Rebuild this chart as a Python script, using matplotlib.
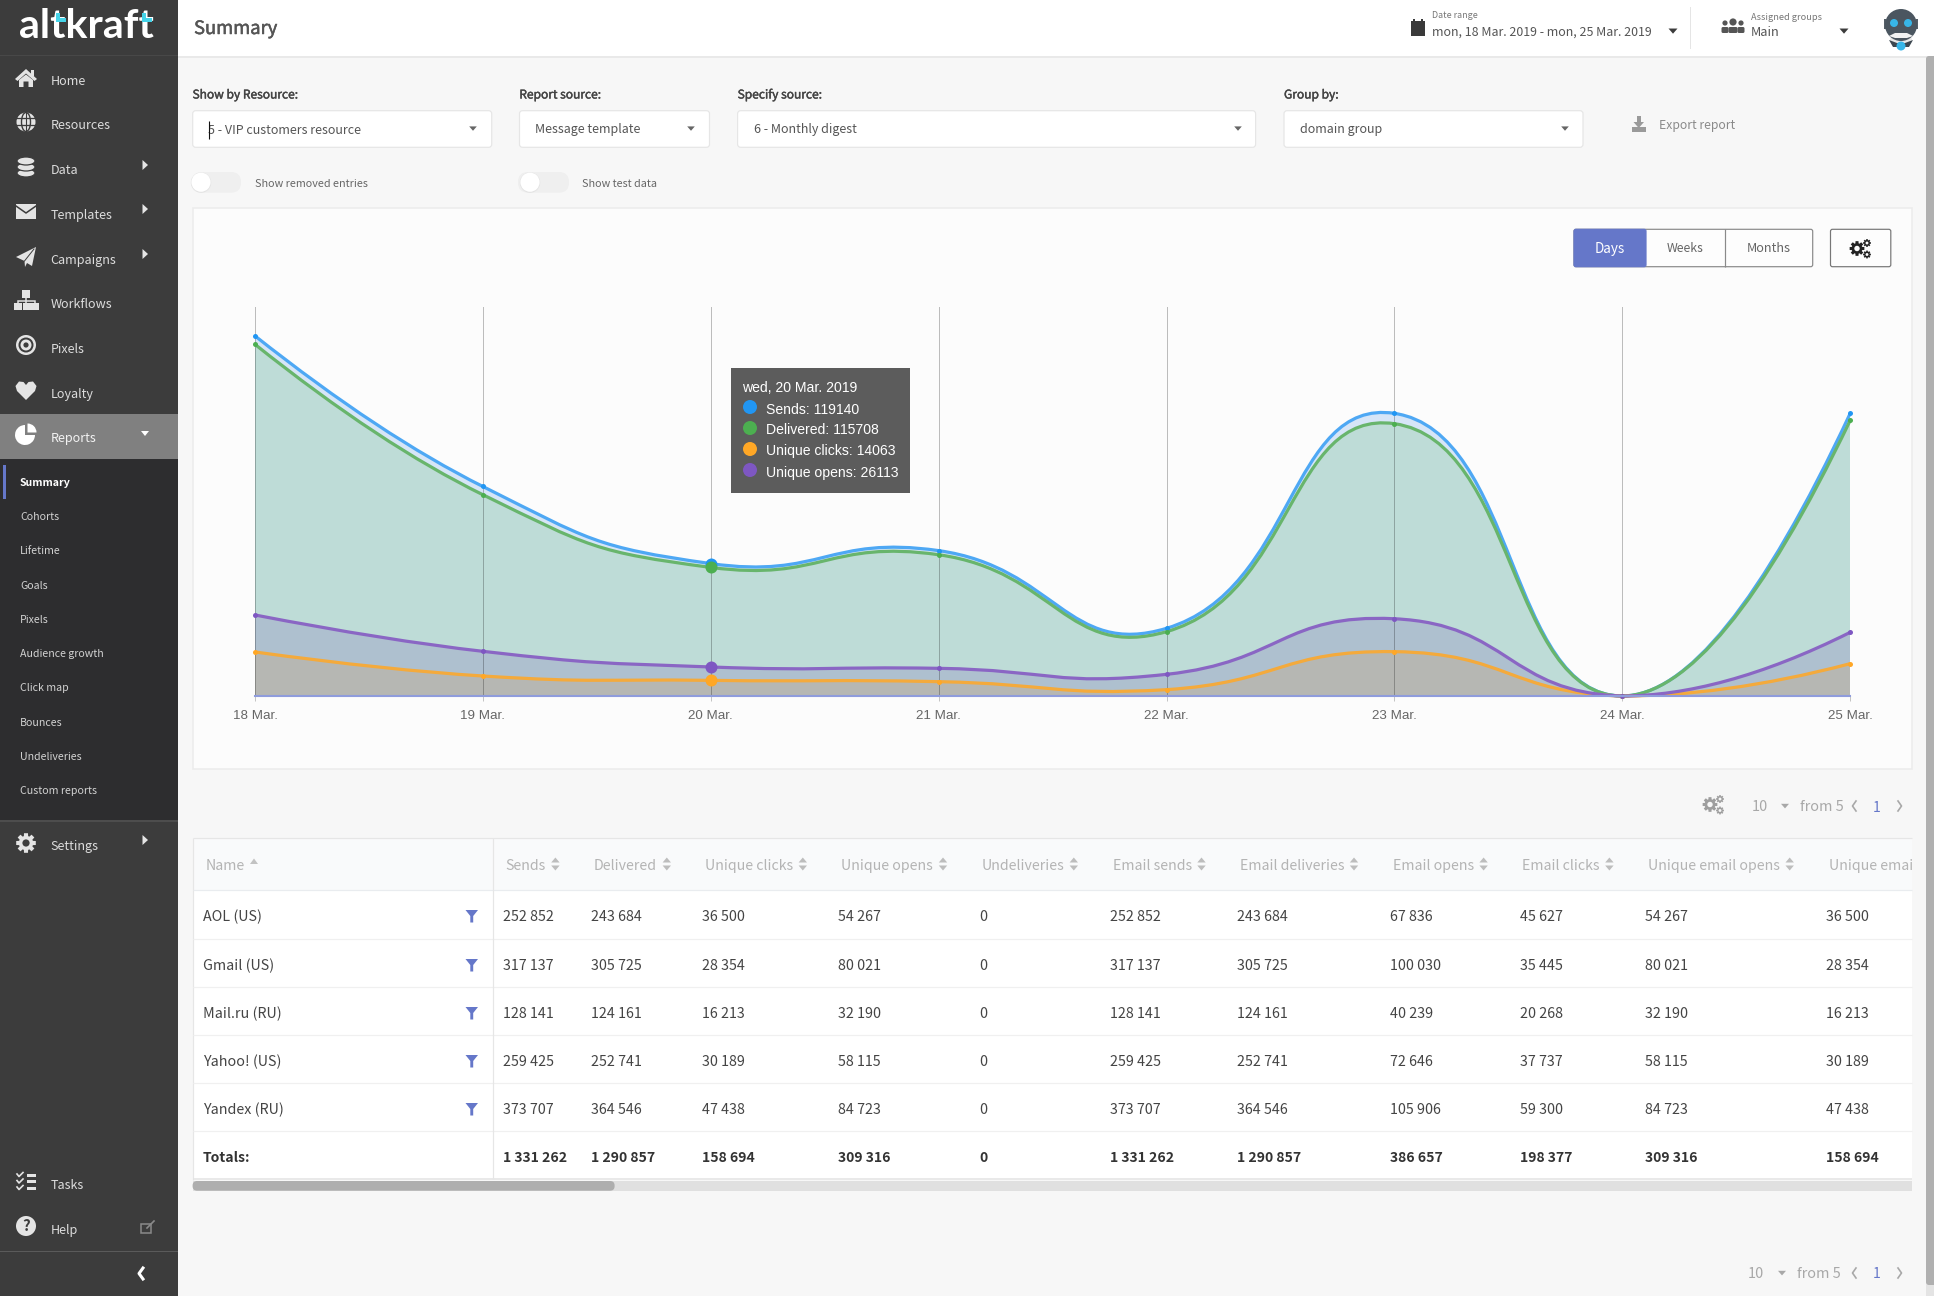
import numpy as np
import matplotlib
matplotlib.use("Agg")
import matplotlib.pyplot as plt
import matplotlib.patheffects as pe
from matplotlib.patches import Rectangle, FancyBboxPatch, Circle, Ellipse, Polygon, Wedge, PathPatch
from matplotlib.path import Path

# ---------- chart data ----------
days = ["18 Mar.", "19 Mar.", "20 Mar.", "21 Mar.", "22 Mar.", "23 Mar.", "24 Mar.", "25 Mar."]
sends = [324000, 188500, 119140, 130800, 60900, 254300, 0, 254300]
delivered = [316400, 181100, 115708, 127100, 57900, 245000, 0, 248000]
unique_clicks = [39600, 18000, 14063, 12900, 5700, 39900, 0, 29100]
unique_opens = [72900, 40200, 26113, 24900, 19500, 69500, 0, 57300]
y_max = 350000
hover_index = 2

# ---------- table data ----------
row_names = ["AOL (US)", "Gmail (US)", "Mail.ru (RU)", "Yahoo! (US)", "Yandex (RU)", "Totals:"]
col_headers = ["Sends", "Delivered", "Unique clicks", "Unique opens", "Undeliveries", "Email sends",
               "Email deliveries", "Email opens", "Email clicks", "Unique email opens", "Unique email clicks"]
col_sends = ["252 852", "317 137", "128 141", "259 425", "373 707", "1 331 262"]
col_delivered = ["243 684", "305 725", "124 161", "252 741", "364 546", "1 290 857"]
col_uclicks = ["36 500", "28 354", "16 213", "30 189", "47 438", "158 694"]
col_uopens = ["54 267", "80 021", "32 190", "58 115", "84 723", "309 316"]
col_undeliv = ["0", "0", "0", "0", "0", "0"]
col_eopens = ["67 836", "100 030", "40 239", "72 646", "105 906", "386 657"]
col_eclicks = ["45 627", "35 445", "20 268", "37 737", "59 300", "198 377"]
table_cols = [col_sends, col_delivered, col_uclicks, col_uopens, col_undeliv, col_sends,
              col_delivered, col_eopens, col_eclicks, col_uopens, col_uclicks]

menu_main = ["Home", "Resources", "Data", "Templates", "Campaigns", "Workflows", "Pixels", "Loyalty"]
menu_sub = ["Summary", "Cohorts", "Lifetime", "Goals", "Pixels", "Audience growth", "Click map",
            "Bounces", "Undeliveries", "Custom reports"]

UI = "Noto Sans CJK SC"
W, H = 1934, 1296
fig = plt.figure(figsize=(W / 100, H / 100), dpi=100, facecolor="#f7f7f7")
ax = fig.add_axes([0, 0, 1, 1], zorder=0)
ax.set_xlim(0, W); ax.set_ylim(H, 0); ax.axis("off")
top = fig.add_axes([0, 0, 1, 1], zorder=3)
top.set_xlim(0, W); top.set_ylim(H, 0); top.axis("off"); top.patch.set_alpha(0)


def T(x, y, s, px=14, c="#555555", w="normal", ha="left", a=None, fam=UI, semi=0, **kw):
    dy = 1.5 if fam == UI else 0
    t = (a or ax).text(x, y + dy, s, fontsize=px * 0.72, color=c, fontweight=w, ha=ha, va="center",
                       family=fam, **kw)
    if semi:
        t.set_path_effects([pe.withStroke(linewidth=semi, foreground=c)])
    return t


def R(x0, y0, x1, y1, fc, ec="none", lw=0, z=1, a=None):
    (a or ax).add_patch(Rectangle((x0, y0), x1 - x0, y1 - y0, fc=fc, ec=ec, lw=lw * 0.72, zorder=z))


def RR(x0, y0, x1, y1, fc, ec="none", lw=1, r=3, z=1):
    ax.add_patch(FancyBboxPatch((x0 + r, y0 + r), x1 - x0 - 2 * r, y1 - y0 - 2 * r,
                                boxstyle=f"round,pad={r},rounding_size={r}", fc=fc, ec=ec, lw=lw * 0.72, zorder=z))


def Poly(pts, fc, z=4, a=None, **kw):
    (a or ax).add_patch(Polygon(pts, closed=True, fc=fc, ec="none", zorder=z, **kw))


def tri_down(x, y, s=5, c="#555555"):
    Poly([(x - s, y - s * 0.55), (x + s, y - s * 0.55), (x, y + s * 0.6)], c)


def tri_right(x, y, s=5, c="#e0e0e0"):
    Poly([(x - s * 0.5, y - s), (x - s * 0.5, y + s), (x + s * 0.6, y)], c)


def L(xs, ys, c, lw=1.0, z=4, cap="butt"):
    ax.plot(xs, ys, color=c, lw=lw * 0.72, zorder=z, solid_capstyle=cap, solid_joinstyle="miter")


def gear(x, y, r, c, hole="#3c3c3c", z=4):
    ang = np.linspace(0, 2 * np.pi, 8, endpoint=False)
    pts = []
    for t in ang:
        for d, rr in [(-0.30, 0.72), (-0.20, 1.0), (0.20, 1.0), (0.30, 0.72)]:
            pts.append((x + r * rr * np.cos(t + d), y + r * rr * np.sin(t + d)))
    Poly(pts, c, z)
    ax.add_patch(Circle((x, y), r * 0.36, fc=hole, ec="none", zorder=z + 0.1))


def gears(x, y, c, hole):
    gear(x - 3, y, 7.5, c, hole)
    gear(x + 7, y - 5.5, 4, c, hole)
    gear(x + 7, y + 6, 4, c, hole)


# ---------- base panels ----------
R(0, 0, 178, H, "#3c3c3c")
R(0, 459, 178, 820, "#2d2d2f")
R(0, 820, 178, 821.5, "#4d4d4d")
R(0, 54.5, 178, 56, "#484848")
R(0, 414, 178, 459, "#808080")
R(0, 1251, 178, 1252, "#5a5a5a")
R(178, 0, W, 56, "#ffffff")
R(178, 56, W, 57.5, "#e9e9e9")
R(1926, 56, W, H, "#e4e4e4")
RR(1926, 56, W + 4, 1285, "#b0b0b0", r=3)

# logo
T(19.5, 26, "altkraft", 41, "#ffffff", "bold", fam="Lato")
Poly([(55.5, 13), (59.5, 13), (59.5, 18), (65.5, 18), (65.5, 22), (55.5, 22)], "#45d3e8", 5)
Poly([(142, 13), (146, 13), (146, 18), (152, 18), (152, 22), (142, 22)], "#45d3e8", 5)

# sidebar text
MS = 12.6
ys_main = [80, 124, 169, 214, 259, 303, 348, 393]
for s, y in zip(menu_main, ys_main):
    T(50.5, y, s, MS, "#dcdcdc")
for y in (165, 209, 254):
    tri_right(145, y, 5, "#e6e6e6")
T(50.5, 437, "Reports", MS, "#f2f2f2")
Poly([(141, 431), (149, 431), (145, 436)], "#ffffff")
T(50.5, 845, "Settings", MS, "#dcdcdc")
tri_right(145, 840, 5, "#e6e6e6")
T(50.5, 1184, "Tasks", MS, "#dcdcdc")
T(50.5, 1229, "Help", MS, "#dcdcdc")
R(3, 465, 6, 499, "#6577c9")
ys_sub = [482, 516, 550, 585, 619, 653, 687, 722, 756, 790]
for i, (s, y) in enumerate(zip(menu_sub, ys_sub)):
    T(20, y - 0.5, s, 10.6, "#ffffff" if i == 0 else "#d2d2d2", "bold" if i == 0 else "normal")

# sidebar icons
IC = "#e4e4e4"
Poly([(15, 79), (26, 69), (37, 79), (34.5, 81), (26, 73.5), (17.5, 81)], IC)
Poly([(19, 80), (26, 74.5), (33, 80), (33, 87), (28.5, 87), (28.5, 81.5), (23.5, 81.5), (23.5, 87), (19, 87)], IC)
R(31, 70, 34, 76, IC, z=4)
ax.add_patch(Circle((26, 122), 9.5, fc=IC, ec="none", zorder=4))
for dy in (-4, 3.2):
    L([16, 36], [122 + dy, 122 + dy], "#3c3c3c", 1.3, 5)
ax.add_patch(Ellipse((26, 122), 9, 19, fc="none", ec="#3c3c3c", lw=1, zorder=5))
L([26, 26], [112, 132], "#3c3c3c", 1.1, 5)
for yy in (173, 167, 161):
    ax.add_patch(Ellipse((26, yy), 18, 8, fc=IC, ec="#3c3c3c", lw=0.9, zorder=4))
R(16, 204, 36, 219, IC, z=4)
ax.plot([16, 26, 36], [206, 213, 206], color="#3c3c3c", lw=1.1, zorder=5)
Poly([(16, 257), (36, 247), (32, 266), (27, 263), (25, 267), (24.5, 261)], IC)
ax.plot([24.5, 34], [261, 249], color="#3c3c3c", lw=0.7, zorder=5)
R(22, 290, 30, 298, IC, z=4)
for xx in (14, 22.5, 31):
    R(xx, 303, xx + 8, 310, IC, z=4)
L([18, 18, 35, 35], [303, 300.5, 300.5, 303], IC, 1.5)
L([26, 26], [298, 303], IC, 1.5)
for rr, col in ((10, IC), (7.5, "#3c3c3c"), (5.5, IC), (2.6, "#3c3c3c")):
    ax.add_patch(Circle((26, 345), rr, fc=col, ec="none", zorder=4 + (10 - rr) / 20))
hv = [(26, 400), (17, 391), (15.5, 386), (19, 381.5), (23.5, 382), (26, 385), (28.5, 382), (33, 381.5),
      (36.5, 386), (35, 391)]
Poly(hv, IC)
ax.add_patch(Wedge((25, 435), 10, 0, 270, fc="#ffffff", ec="none", zorder=4))
ax.add_patch(Wedge((27.5, 432.5), 9, 270, 360, fc="#ffffff", ec="none", zorder=4))
gear(26, 843, 10, IC, "#3c3c3c")
for yy in (1175, 1181.5, 1188):
    R(27, yy - 1.5, 36, yy + 1.5, IC, z=4)
    ax.plot([17, 19, 23], [yy - 1, yy + 1.5, yy - 2.5], color=IC, lw=1.2, zorder=4)
ax.add_patch(Circle((26, 1226), 10, fc=IC, ec="none", zorder=4))
T(26, 1224.5, "?", 15, "#3c3c3c", "bold", ha="center", zorder=5)
ax.add_patch(Rectangle((141, 1224), 10, 9, fc="none", ec="#8a8a8a", lw=1.1, zorder=4))
ax.plot([147, 154], [1228, 1221], color="#8a8a8a", lw=1.2, zorder=4)
ax.plot([139 + 4, 139, 139 + 4], [1268, 1273.5, 1279], color="#ffffff", lw=2.2, zorder=4)

# header
T(194, 27.5, "Summary", 18.4, "#555555", semi=0.35)
R(1411, 21, 1425, 36, "#3a3a3a", z=4)
R(1413, 18.5, 1415, 22, "#3a3a3a", z=4)
R(1421, 18.5, 1423, 22, "#3a3a3a", z=4)
T(1431.5, 14.5, "Date range", 8.9, "#777777")
T(1431.5, 30.5, "mon, 18 Mar. 2019 - mon, 25 Mar. 2019", 12.4, "#555555")
tri_down(1673, 31, 4.5, "#3c3c3c")
R(1690.3, 7, 1691.3, 49, "#e5e5e5")
for dx, rr in ((-8, 2.6), (8, 2.6), (0, 3.6)):
    ax.add_patch(Circle((1733 + dx, 23 if dx else 22), rr, fc="#555555", ec="none", zorder=4))
    RR(1733 + dx - (3.5 if dx else 4.5), 27, 1733 + dx + (3.5 if dx else 4.5), 33, "#555555", r=1.5, z=4)
T(1751, 16, "Assigned groups", 9.2, "#777777")
T(1751, 30.5, "Main", 12.8, "#555555")
tri_down(1844, 31, 4.5, "#3c3c3c")
# avatar
ax.add_patch(Ellipse((1901, 40), 22, 12, fc="#e8e8e8", ec="none", zorder=4))
ax.add_patch(Rectangle((1884, 19), 2, 10, fc="#555f68", ec="none", zorder=4))
ax.add_patch(Rectangle((1916, 19), 2, 10, fc="#555f68", ec="none", zorder=4))
ax.add_patch(Circle((1901, 25), 16, fc="#4b5660", ec="none", zorder=4.1))
Poly([(1889, 36), (1895, 33), (1907, 33), (1913, 36), (1907, 38), (1895, 38)], "#f2f2f2", 4.2)
ax.add_patch(Circle((1894, 23), 4, fc="#38b6e8", ec="none", zorder=4.3))
ax.add_patch(Circle((1908, 23), 4, fc="#38b6e8", ec="none", zorder=4.3))
Poly([(1889, 40), (1897, 43), (1905, 43), (1913, 40), (1909, 47), (1893, 47)], "#3c4750", 4.2)
ax.add_patch(Circle((1901, 46), 4.5, fc="#38b6e8", ec="none", zorder=4.3))

# filters
for x, s in ((192.5, "Show by Resource:"), (519.3, "Report source:"), (737.6, "Specify source:"), (1284, "Group by:")):
    T(x, 93.5, s, 12, "#444444", semi=0.3)
boxes = [(192.7, 491.7, 208, "5 - VIP customers resource", 473), (519.5, 709.5, 535, "Message template", 691),
         (737.6, 1255.6, 753.6, "6 - Monthly digest", 1238), (1284, 1583, 1300, "domain group", 1565)]
for x0, x1, tx, s, ax_ in boxes:
    RR(x0, 110.7, x1, 147.3, "#ffffff", "#e6e6e6", 1.2, 3)
    T(tx, 128.5, s, 12.5, "#555555")
    tri_down(ax_, 128.5, 3.8, "#666666")
L([208.5, 208.5], [121, 138.5], "#111111", 1.1, 5)
R(1632, 127, 1646, 132, "#9a9a9a", z=4)
R(1637, 116, 1640.5, 123, "#9a9a9a", z=4)
Poly([(1633.5, 122), (1644, 122), (1638.7, 128)], "#9a9a9a")
T(1658.7, 124.5, "Export report", 12.2, "#8a8a8a")
for x0, x1, kx, tx, s in ((192, 241, 201, 255.3, "Show removed entries"), (518, 569, 530, 582, "Show test data")):
    RR(x0, 172, x1, 192.7, "#efefef", r=10)
    ax.add_patch(Circle((kx, 182.6), 10.2, fc="#e3e3e3", ec="none", zorder=2))
    ax.add_patch(Circle((kx, 182.2), 9.6, fc="#ffffff", ec="none", zorder=2.1))
    T(tx, 182.7, s, 10.8, "#666666")

# chart panel
R(192.7, 207.5, 1911.5, 768.5, "#fcfcfc", "#ececec", 1.6, z=0.5)
RR(1574, 229.3, 1812.7, 266.7, "#fdfdfd", "#8a8a8a", 1.2, 2, z=1.5)
RR(1574, 229.3, 1646, 266.7, "#6577c9", "#6577c9", 1.2, 2, z=1.6)
L([1725.4, 1725.4], [229.3, 266.7], "#8a8a8a", 1.2)
T(1610, 247, "Days", 13.5, "#ffffff", ha="center", zorder=5)
T(1685.5, 247, "Weeks", 12.3, "#666666", ha="center", zorder=5)
T(1769, 247, "Months", 12.7, "#666666", ha="center", zorder=5)
RR(1830.5, 229.3, 1890.8, 266.7, "#fdfdfd", "#777777", 1.2, 2, z=1.5)
gears(1860, 248.5, "#222222", "#fdfdfd")

# ---------- chart ----------
px_left, px_right, px_base, px_top = 255.0, 1850.2, 696.0, 307.0
cax = fig.add_axes([px_left / W, 1 - px_base / H, (px_right - px_left) / W, (px_base - px_top) / H], zorder=1)
cax.patch.set_alpha(0)
xv = np.arange(len(days), dtype=float)
cax.set_xlim(0, len(days) - 1)
cax.set_ylim(0, y_max)
sx = (px_right - px_left) / (len(days) - 1)
sy = (px_base - px_top) / y_max


def spline_path(vals, tension=0.5, end=0.84):
    """Smooth curve through the values; first and last segments are quadratic."""
    p = np.column_stack([xv * sx, np.asarray(vals, float) * sy])
    n = len(p)
    c_in, c_out = np.zeros_like(p), np.zeros_like(p)
    for i in range(n):
        a, b, d = p[max(i - 1, 0)], p[i], p[min(i + 1, n - 1)]
        d01, d12 = np.hypot(*(b - a)), np.hypot(*(d - b))
        s = d01 + d12
        s01, s12 = (d01 / s, d12 / s) if s else (0, 0)
        c_in[i] = b - tension * s01 * (d - a)
        c_out[i] = b + tension * s12 * (d - a)
    q0 = p[1] + end * (c_in[1] - p[1])
    c_out[0] = p[0] + 2 / 3 * (q0 - p[0])
    c_in[1] = p[1] + 2 / 3 * (q0 - p[1])
    q1 = p[n - 2] + end * (c_out[n - 2] - p[n - 2])
    c_out[n - 2] = p[n - 2] + 2 / 3 * (q1 - p[n - 2])
    c_in[n - 1] = p[n - 1] + 2 / 3 * (q1 - p[n - 1])
    for arr in (c_in, c_out):
        arr[:, 1] = np.clip(arr[:, 1], 0, y_max * sy)
    verts, codes = [p[0]], [Path.MOVETO]
    for i in range(n - 1):
        verts += [c_out[i], c_in[i + 1], p[i + 1]]
        codes += [Path.CURVE4] * 3
    v = np.array(verts)
    v[:, 0] /= sx
    v[:, 1] /= sy
    return v, codes


series = [
    (sends, "#d6e5f7", "#4ea8f4", "#2196f3", 2),
    (delivered, "#bedcd7", "#68b56c", "#4caf50", 2.1),
    (unique_opens, "#aec0cf", "#8a66c4", "#7e57c2", 2.4),
    (unique_clicks, "#b6b7b3", "#f4aa3c", "#ffa726", 2.3),
]
for vals, fill, line, pt, z in series:
    v, codes = spline_path(vals)
    fv = np.vstack([v, [[xv[-1], 0], [xv[0], 0], [xv[0], 0]]])
    fc = codes + [Path.LINETO, Path.LINETO, Path.CLOSEPOLY]
    cax.add_patch(PathPatch(Path(fv, fc), fc=fill, ec="none", zorder=1))
for vals, fill, line, pt, z in series:
    v, codes = spline_path(vals)
    cax.add_patch(PathPatch(Path(v, codes), fc="none", ec=line, lw=3.2 * 0.72, zorder=z + 1, clip_on=False))
    cax.plot(xv, vals, ls="none", marker="o", ms=5 * 0.72, mfc=pt, mec=pt, mew=0, zorder=z + 2, clip_on=False)
    cax.plot(xv[hover_index], vals[hover_index], ls="none", marker="o", ms=12 * 0.72, mfc=pt, mec=pt, mew=0,
             zorder=z + 2, clip_on=False)
cax.set_xticks(xv)
cax.set_xticklabels(days, family="Liberation Sans", fontsize=9.6, color="#666666")
cax.set_yticks([])
cax.grid(axis="x", color="black", alpha=0.25, lw=0.72, zorder=2)
cax.set_axisbelow(False)
cax.tick_params(axis="x", length=3.6, width=0.72, color="#c4c4c4", pad=6.3)
for s_ in ("top", "left", "right"):
    cax.spines[s_].set_visible(False)
cax.spines["bottom"].set_color("#8f9cdc")
cax.spines["bottom"].set_linewidth(1.5)
cax.spines["bottom"].set_zorder(6)

# tooltip
top.add_patch(Rectangle((731, 368), 179, 124.7, fc="#5c5c5c", ec="none", zorder=5))
FT = "Liberation Sans"
T(742, 388.5, "wed, 20 Mar. 2019", 14, "#ffffff", a=top, fam=FT, zorder=6)
tips = [("Sends", sends, "#2196f3"), ("Delivered", delivered, "#4caf50"),
        ("Unique clicks", unique_clicks, "#ffa726"), ("Unique opens", unique_opens, "#7e57c2")]
for (nm, vals, col), yy in zip(tips, (409.5, 430.5, 451.5, 472.5)):
    top.add_patch(Circle((750, yy - 2.5), 7, fc=col, ec="none", zorder=6))
    T(765.7, yy, f"{nm}: {vals[hover_index]}", 14, "#ffffff", a=top, fam=FT, zorder=6)

# ---------- pagination ----------
gears(1713, 804.5, "#9e9e9e", "#f7f7f7")
PG = "#a8a8a8"
for yy, x10, xar, xfrom in ((806, 1751.5, 1785, 1799.5), (1273, 1748, 1782, 1797)):
    T(x10, yy - 0.5, "10", 14.5, PG)
    tri_down(xar, yy, 4, PG)
    T(xfrom, yy - 0.5, "from 5", 14.5, PG)
    ax.plot([1856, 1852.5, 1856], [yy - 5, yy, yy + 5], color=PG, lw=1.2, zorder=4)
    T(1877, yy, "1", 14, "#6577c9", ha="center")
    ax.plot([1898, 1901.5, 1898], [yy - 5, yy, yy + 5], color=PG, lw=1.2, zorder=4)

# ---------- table ----------
tx0, tx1 = 192.6, 1912
R(tx0, 838.3, tx1, 1179.5, "#ffffff", z=0.5)
R(tx0, 838.3, tx1, 890.3, "#f9fafb", z=0.6)
L([tx0, tx1], [838.3, 838.3], "#e6e6e6", 1.2)
L([tx0, tx0], [838.3, 1180], "#e6e6e6", 1.2)
L([tx0, tx1], [890.3, 890.3], "#e9ecef", 1.2)
for yy in (939.3, 987.3, 1035.3, 1083.3, 1131.3):
    L([tx0, tx1], [yy, yy], "#f0f0f0", 1.2)
L([tx0, tx1], [1179.3, 1179.3], "#e3e3e3", 1.5)
L([493.4, 493.4], [838.3, 1179], "#e6e6e6", 1.2)
R(tx0, 1181, tx1, 1190.7, "#e0e0e0", z=1)
RR(tx0, 1181, 614.6, 1190.7, "#aeaeae", r=4.5, z=1.5)

row_ys = [916, 965, 1013, 1061, 1109, 1157]
col_xs = [502.6, 591, 701.8, 838.4, 979, 1110, 1237.4, 1390, 1519.5, 1644.8, 1826]
sort_xs = [555.4, 666.8, 802.8, 943, 1073.8, 1201.5, 1354, 1483.6, 1609.4, 1789.7, None]
HC = "#b4b4b4"
T(205.5, 864.5, "Name", 14.2, HC)
Poly([(250, 864), (258, 864), (254, 858.5)], "#c2c2c2")
clip = Rectangle((tx0, 838), tx1 - tx0, 345, transform=ax.transData)
for h, x, sx_ in zip(col_headers, col_xs, sort_xs):
    t_ = T(x + 3, 864.5, h, 14.2, HC)
    t_.set_clip_path(clip)
    t_.set_clip_on(True)
    if sx_ is not None:
        Poly([(sx_ - 4.2, 862.5), (sx_ + 4.2, 862.5), (sx_, 857.5)], "#bdbdbd")
        Poly([(sx_ - 4.2, 865.5), (sx_ + 4.2, 865.5), (sx_, 870.5)], "#bdbdbd")
for i, (nm, y) in enumerate(zip(row_names, row_ys)):
    bold = i == len(row_names) - 1
    fs = 14 if bold else 14.3
    T(203, y - 0.5, nm, fs, "#333333" if bold else "#444444", "bold" if bold else "normal")
    if not bold:
        Poly([(465.5, y - 6), (478, y - 6), (473.2, y), (473.2, y + 6.5), (470.3, y + 6.5), (470.3, y)], "#6577c9")
    for col, x in zip(table_cols, col_xs):
        T(x, y - 0.5, col[i], fs, "#333333" if bold else "#444444", "bold" if bold else "normal")

fig.savefig("out.png", dpi=100, facecolor=fig.get_facecolor())
